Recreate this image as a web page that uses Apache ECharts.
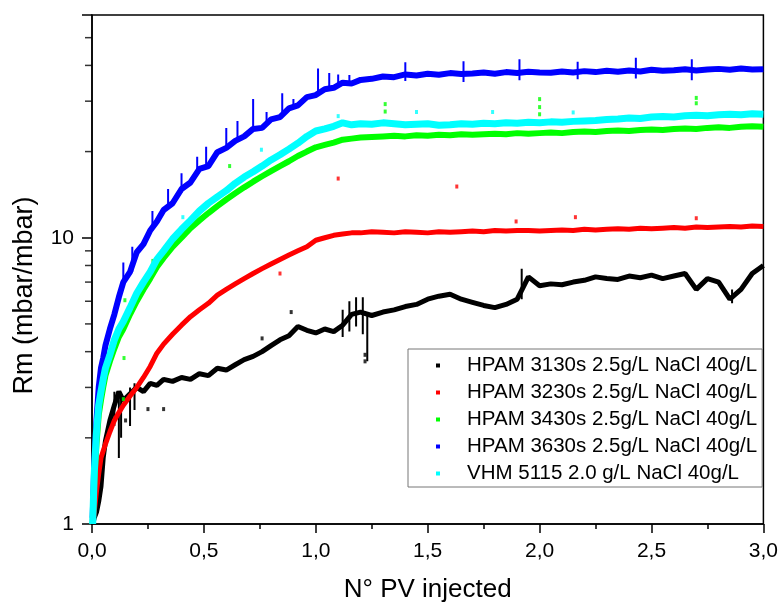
<!DOCTYPE html>
<html lang="en">
<head>
<meta charset="utf-8">
<title>Rm vs PV injected</title>
<script src="https://cdn.jsdelivr.net/npm/echarts@6/dist/echarts.min.js"></script>
<style>html,body{margin:0;padding:0;background:#fff;}</style>
</head>
<body>
<div id="main" style="width:781px;height:608px;"></div>
<script>
// N° PV injected (shared x for the 5 curves)
var pv = [0.003, 0.01, 0.02, 0.03, 0.04, 0.05, 0.06, 0.08, 0.10, 0.12, 0.14, 0.17, 0.20, 0.23, 0.26, 0.29, 0.32,
    0.36, 0.40, 0.44, 0.48, 0.52, 0.56, 0.60, 0.64, 0.68, 0.72, 0.76, 0.80, 0.84, 0.88, 0.92, 0.96, 1.00, 1.04, 1.08, 1.12, 1.16, 1.20,
    1.25, 1.30, 1.35, 1.40, 1.45, 1.50, 1.55, 1.60, 1.65, 1.70, 1.75, 1.80, 1.85, 1.90, 1.95, 2.00, 2.05, 2.10, 2.15, 2.20,
    2.25, 2.30, 2.35, 2.40, 2.45, 2.50, 2.55, 2.60, 2.65, 2.70, 2.75, 2.80, 2.85, 2.90, 2.95, 3.00];

// Rm (mbar/mbar)
var hpam3130 = [1.0, 1.05, 1.1, 1.2, 1.35, 1.7, 1.95, 2.3, 2.6, 2.9, 2.7, 2.85, 3.0, 2.9, 3.1, 3.05, 3.2,
    3.15, 3.25, 3.2, 3.35, 3.3, 3.5, 3.45, 3.6, 3.75, 3.85, 4.0, 4.2, 4.4, 4.55, 4.9, 4.75, 4.65, 4.8, 4.7, 4.95, 5.4, 5.5,
    5.35, 5.5, 5.6, 5.75, 5.85, 6.1, 6.25, 6.35, 6.1, 5.95, 5.8, 5.7, 5.85, 6.1, 7.3, 6.8, 6.9, 6.85, 7.0, 7.1,
    7.3, 7.2, 7.15, 7.35, 7.25, 7.4, 7.2, 7.35, 7.5, 6.6, 7.2, 7.0, 6.1, 6.6, 7.5, 8.0];
var hpam3230 = [1.0, 1.1, 1.3, 1.5, 1.7, 1.8, 1.9, 2.1, 2.3, 2.45, 2.6, 2.8, 3.0, 3.25, 3.55, 3.95, 4.25,
    4.6, 4.95, 5.3, 5.6, 5.9, 6.3, 6.6, 6.9, 7.2, 7.5, 7.8, 8.1, 8.4, 8.7, 9.0, 9.3, 9.8, 10.0, 10.2, 10.3, 10.4, 10.4,
    10.5, 10.45, 10.4, 10.5, 10.45, 10.4, 10.5, 10.45, 10.5, 10.55, 10.5, 10.6, 10.55, 10.6, 10.6, 10.55, 10.6, 10.65, 10.6, 10.7,
    10.65, 10.7, 10.75, 10.7, 10.8, 10.75, 10.8, 10.85, 10.8, 10.9, 10.85, 10.9, 10.95, 10.9, 11.0, 10.95];
var hpam3430 = [1.0, 1.4, 1.9, 2.4, 2.7, 3.0, 3.3, 3.7, 4.1, 4.5, 4.8, 5.4, 6.0, 6.6, 7.2, 7.9, 8.5,
    9.3, 10.0, 10.8, 11.5, 12.2, 12.9, 13.6, 14.3, 15.0, 15.7, 16.4, 17.1, 17.8, 18.5, 19.3, 20.0, 20.7, 21.1, 21.5, 22.0, 22.2, 22.4,
    22.5, 22.6, 22.7, 22.6, 22.8, 22.7, 22.9, 22.8, 23.0, 22.9, 23.0, 23.1, 23.0, 23.2, 23.1, 23.2, 23.3, 23.2, 23.4, 23.5,
    23.4, 23.6, 23.7, 23.6, 23.8, 23.9, 23.8, 24.0, 24.1, 24.0, 24.2, 24.3, 24.2, 24.4, 24.5, 24.4];
var hpam3630 = [1.05, 1.6, 2.3, 3.0, 3.5, 3.8, 4.2, 4.8, 5.4, 6.2, 7.0, 7.6, 8.9, 9.5, 10.6, 11.4, 12.5,
    13.2, 14.8, 15.6, 17.4, 17.8, 19.9, 20.6, 21.8, 22.6, 24.0, 24.2, 25.9, 26.4, 28.3, 29.0, 31.0, 31.5, 33.0, 33.4, 34.8, 34.6, 35.6,
    35.9, 36.6, 36.4, 37.2, 36.9, 37.4, 37.1, 37.6, 37.3, 37.5, 37.8, 37.4, 37.9, 37.6, 38.0, 37.8, 37.7, 38.1, 37.8, 38.2,
    37.9, 38.3, 38.0, 38.4, 38.1, 38.6, 38.3, 38.5, 38.8, 38.4, 38.7, 38.9, 38.6, 39.0, 38.7, 38.8];
var vhm5115 = [1.0, 1.5, 2.1, 2.6, 2.9, 3.2, 3.5, 3.9, 4.4, 4.8, 5.1, 5.7, 6.4, 7.0, 7.6, 8.4, 9.0,
    9.9, 10.7, 11.5, 12.4, 13.2, 13.9, 14.6, 15.5, 16.3, 17.0, 17.8, 18.7, 19.5, 20.4, 21.4, 22.6, 23.6, 24.0, 24.5, 25.2, 24.8, 25.0,
    24.9, 25.2, 25.0, 24.8, 24.9, 25.0, 24.7, 24.8, 25.0, 24.9, 25.1, 25.0, 25.2, 25.1, 25.3, 25.2, 25.4, 25.3, 25.5, 25.6,
    25.7, 25.9, 26.0, 26.2, 26.1, 26.4, 26.5, 26.4, 26.7, 26.8, 26.7, 26.9, 27.0, 26.9, 27.1, 27.0];

// vertical noise spikes, [pv, low, high]
var spikes3130 = [[0.10, 2.2, 2.9], [0.12, 1.7, 2.9], [0.13, 2.0, 2.8], [0.17, 2.2, 3.0], [0.19, 2.5, 3.1],
    [1.12, 4.5, 5.6], [1.15, 4.7, 6.0], [1.18, 4.9, 6.2], [1.21, 4.6, 6.2], [1.23, 3.7, 5.5],
    [1.92, 6.1, 7.8], [2.86, 5.9, 6.6]];
var spikes3630 = [[0.14, 6.8, 8.2], [0.18, 7.6, 9.3], [0.27, 10.6, 12.4], [0.34, 12.6, 14.8], [0.40, 14.4, 16.8],
    [0.47, 16.8, 19.2], [0.51, 17.6, 20.8], [0.60, 20.4, 24.2], [0.65, 21.8, 25.6], [0.72, 23.6, 30.5],
    [0.78, 24.8, 27.5], [0.85, 26.4, 32.0], [0.90, 28.4, 30.5], [1.01, 31.5, 39.0], [1.06, 32.8, 37.6],
    [1.10, 33.8, 37.2], [1.15, 34.6, 37.0], [1.40, 35.3, 41.0], [1.66, 35.0, 41.4], [1.91, 35.5, 42.0],
    [2.17, 35.8, 41.2], [2.43, 36.0, 42.5], [2.68, 35.5, 42.0]];

// stray points, [pv, Rm]
var strays3130 = [[0.25, 2.52], [0.32, 2.52], [0.15, 2.3], [0.76, 4.45], [0.89, 5.5], [1.22, 3.9], [1.22, 3.7]];
var strays3230 = [[0.84, 7.5], [1.10, 16.1], [1.63, 15.1], [1.895, 11.4], [2.16, 11.8], [2.70, 11.7]];
var strays3430 = [[0.14, 2.73], [0.143, 3.8], [0.147, 6.05], [0.272, 8.3], [0.615, 17.8], [1.31, 29.3], [1.31, 27.6],
    [2.0, 30.5], [2.0, 28.6], [2.0, 27.0], [2.7, 30.8], [2.7, 29.5]];
var strays3630 = [];
var strays5115 = [[0.406, 11.8], [0.757, 20.3], [1.10, 26.6], [1.45, 27.5], [1.79, 27.5], [2.15, 27.4]];

var names = ['HPAM 3130s 2.5g/L NaCl 40g/L', 'HPAM 3230s 2.5g/L NaCl 40g/L', 'HPAM 3430s 2.5g/L NaCl 40g/L',
    'HPAM 3630s 2.5g/L NaCl 40g/L', 'VHM 5115 2.0 g/L NaCl 40g/L'];
var colors = ['#000000', '#ff0000', '#00ff00', '#0000ff', '#00ffff'];
var yMinorTicks = [2, 3, 4, 5, 6, 7, 8, 9, 20, 30, 40, 50];

var curves = [hpam3130, hpam3230, hpam3430, hpam3630, vhm5115];
var strays = [strays3130, strays3230, strays3430, strays3630, strays5115];
var spikes = [spikes3130, [], [], spikes3630, []];
var widths = [5, 5, 6, 6, 7];
var font = "'Liberation Sans', Arial, sans-serif";

var myChart = echarts.init(document.getElementById('main'));

var series = [];
curves.forEach(function (ys, i) {
    series.push({
        name: names[i],
        type: 'line',
        symbol: 'none',
        color: colors[i],
        lineStyle: {width: widths[i], color: colors[i]},
        data: pv.map(function (x, k) { return [x, ys[k]]; }),
        z: 2 + i
    });
});
spikes.forEach(function (list, i) {
    if (!list.length) return;
    var d = [];
    list.forEach(function (s) {
        d.push([s[0], s[1]], [s[0], s[2]], [s[0], '-']);
    });
    series.push({
        name: names[i],
        type: 'line',
        symbol: 'none',
        connectNulls: false,
        lineStyle: {width: 2, color: colors[i]},
        data: d,
        z: 2 + i
    });
});
strays.forEach(function (pts, i) {
    if (!pts.length) return;
    series.push({
        name: names[i],
        type: 'scatter',
        symbol: 'rect',
        symbolSize: [3, 4],
        itemStyle: {color: colors[i]},
        data: pts,
        z: 2 + i
    });
});
// minor ticks of the log axis
series.push({
    type: 'scatter',
    symbol: 'rect',
    symbolSize: [7, 1.5],
    symbolOffset: [-3.5, 0],
    clip: false,
    silent: true,
    itemStyle: {color: '#000'},
    data: yMinorTicks.map(function (v) { return [0, v]; }),
    z: 10
});

var option = {
    backgroundColor: '#fff',
    animation: false,
    textStyle: {fontFamily: font},
    grid: {left: 92, top: 15, right: 16, bottom: 84, show: true, borderColor: '#000', borderWidth: 1.5},
    legend: {
        data: names,
        orient: 'vertical',
        left: 408,
        top: 349,
        padding: [6, 5, 3, 28],
        itemGap: 6,
        itemWidth: 4,
        itemHeight: 4,
        icon: 'rect',
        backgroundColor: '#fff',
        borderColor: '#777',
        borderWidth: 1,
        formatter: '{a|{name}}',
        textStyle: {
            fontFamily: font,
            fontSize: 20,
            color: '#000',
            rich: {a: {fontFamily: font, fontSize: 20.5, lineHeight: 20, padding: [0, 0, 0, 22]}}
        }
    },
    xAxis: {
        type: 'value',
        min: 0,
        max: 3,
        interval: 0.5,
        name: 'N° PV injected',
        nameLocation: 'middle',
        nameGap: 53,
        nameTextStyle: {fontFamily: font, fontSize: 26, color: '#000'},
        axisLine: {lineStyle: {color: '#000', width: 1.5}},
        axisTick: {length: 9, lineStyle: {color: '#000', width: 1.5}},
        minorTick: {show: true, splitNumber: 2, length: 5, lineStyle: {color: '#000', width: 1.5}},
        splitLine: {show: false},
        axisLabel: {
            margin: 17, fontSize: 21, color: '#000', fontFamily: font,
            formatter: function (v) { return v.toFixed(1).replace('.', ','); }
        }
    },
    yAxis: {
        type: 'log',
        logBase: 10,
        min: 1,
        max: 60,
        name: 'Rm (mbar/mbar)',
        nameLocation: 'middle',
        nameGap: 54,
        nameTextStyle: {fontFamily: font, fontSize: 27, color: '#000', padding: [0, 52, 0, 0]},
        axisLine: {lineStyle: {color: '#000', width: 1.5}},
        axisTick: {length: 10, lineStyle: {color: '#000', width: 1.5}},
        splitLine: {show: false},
        axisLabel: {
            margin: 18, fontSize: 21, color: '#000', fontFamily: font,
            formatter: function (v) { return (v === 1 || v === 10) ? String(v) : ''; }
        }
    },
    series: series
};

myChart.setOption(option);
</script>
</body>
</html>
